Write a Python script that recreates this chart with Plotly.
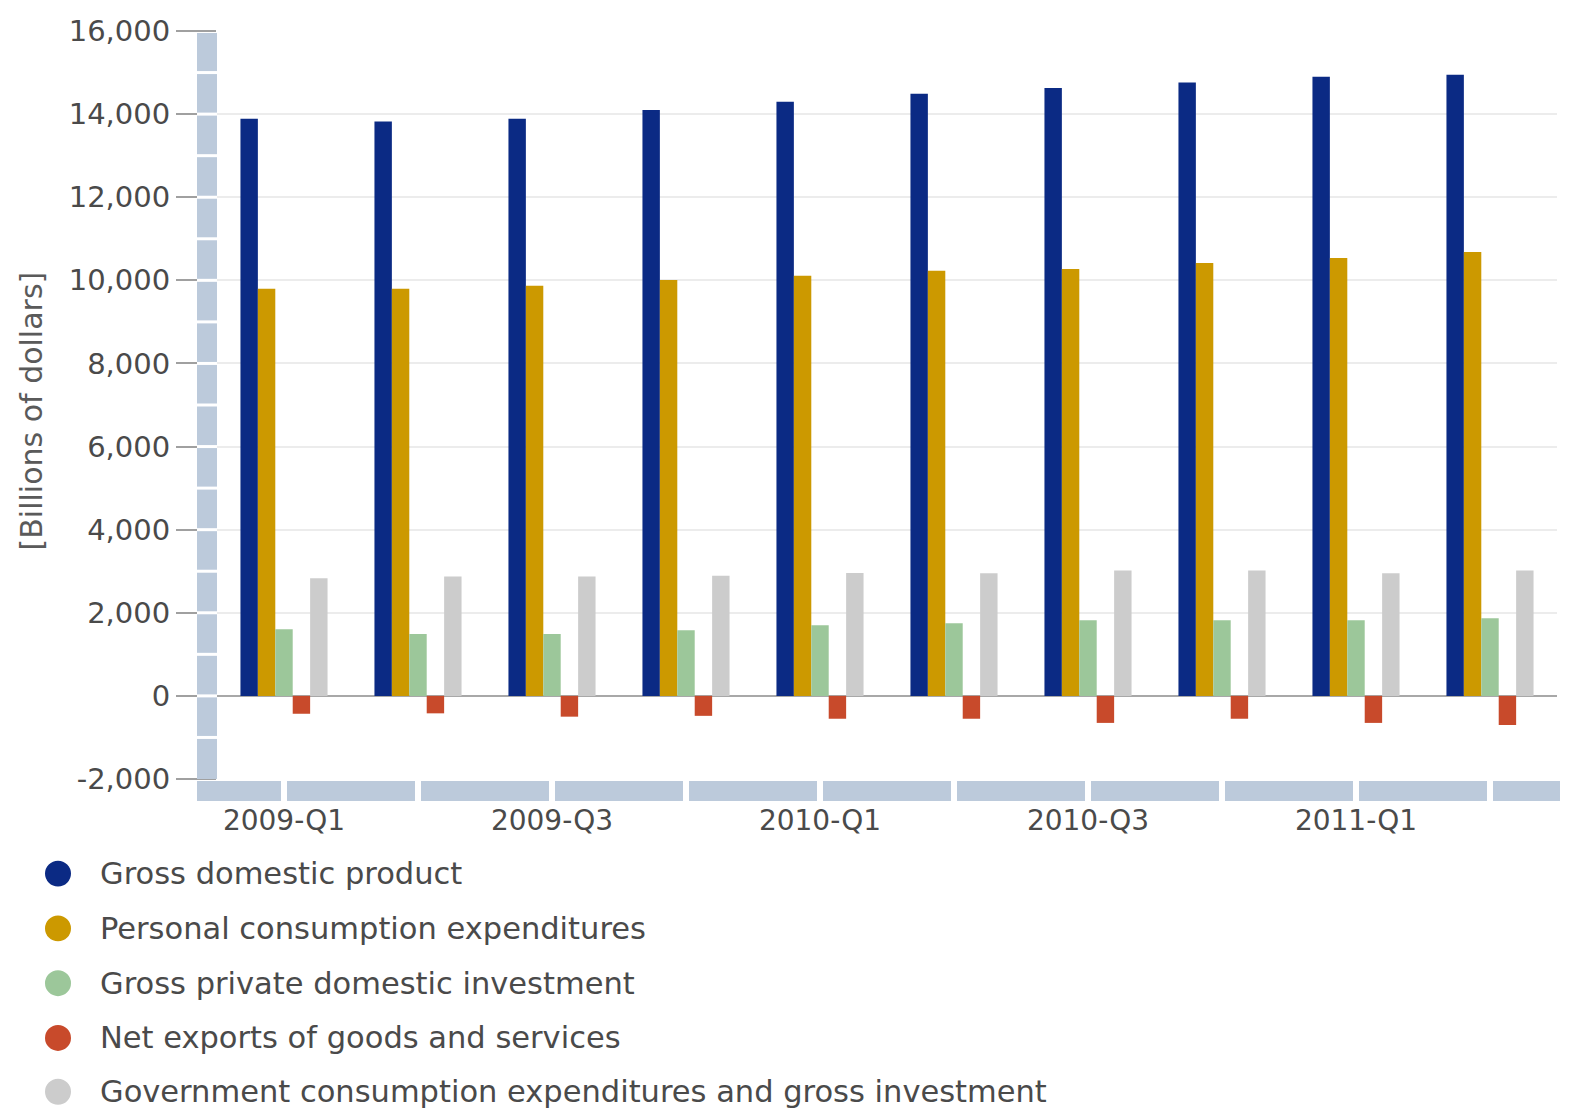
import plotly.graph_objects as go

quarters = ["2009-Q1", "2009-Q2", "2009-Q3", "2009-Q4", "2010-Q1",
            "2010-Q2", "2010-Q3", "2010-Q4", "2011-Q1", "2011-Q2"]
tick_labels = ["2009-Q1", "2009-Q3", "2010-Q1", "2010-Q3", "2011-Q1"]

series_names = ["Gross domestic product",
                "Personal consumption expenditures",
                "Gross private domestic investment",
                "Net exports of goods and services",
                "Government consumption expenditures and gross investment"]

gdp = [13890, 13820, 13890, 14100, 14300, 14490, 14630, 14760, 14900, 14950]
pce = [9800, 9800, 9870, 10010, 10110, 10230, 10270, 10420, 10540, 10680]
gpdi = [1605, 1490, 1490, 1580, 1700, 1750, 1820, 1820, 1820, 1870]
netx = [-430, -420, -500, -480, -550, -550, -650, -550, -650, -700]
gov = [2830, 2875, 2875, 2890, 2960, 2950, 3015, 3015, 2950, 3015]

series_values = [gdp, pce, gpdi, netx, gov]
colors = ["#0b2a84", "#cc9900", "#9cc79a", "#c84a2b", "#cccccc"]

y_ticks = [-2000, 0, 2000, 4000, 6000, 8000, 10000, 12000, 14000, 16000]

OFF = 8  # page body margin
W, H = 1555, 1103
# plot area in page pixels: x 217..1557, y 28..779
L = 217 - OFF
T = 28 - OFF
R = W - (1557 - OFF)
B = H - (779 - OFF)
PW, PH = W - L - R, H - T - B

FONT = "DejaVu Sans"
TXT = "#4a4a4a"
BAND = "#bccadb"

fig = go.Figure()
for name, vals, col in zip(series_names, series_values, colors):
    fig.add_trace(go.Bar(x=quarters, y=vals, name=name, marker_color=col,
                         marker_line_width=0, showlegend=False))


def px_x(p):
    return (p - OFF - L) / PW


def px_y(p):
    return (H - B - (p - OFF)) / PH


shapes = []
# left decorative band
shapes.append(dict(type="rect", xref="paper", yref="y", x0=px_x(197), x1=0,
                   y0=-2000, y1=15950, fillcolor=BAND, line_width=0, layer="above"))
for v in range(-1000, 16000, 1000):
    shapes.append(dict(type="line", xref="paper", yref="y", x0=px_x(197), x1=0,
                       y0=v, y1=v, line=dict(color="white", width=3), layer="above"))
# bottom decorative band
shapes.append(dict(type="rect", xref="paper", yref="paper", x0=px_x(197), x1=px_x(1560),
                   y0=px_y(801), y1=px_y(781), fillcolor=BAND, line_width=0, layer="above"))
for i in range(len(quarters)):
    shapes.append(dict(type="line", xref="x", yref="paper", x0=i, x1=i,
                       y0=px_y(802), y1=px_y(780), line=dict(color="white", width=6),
                       layer="above"))

# legend (manual, circular swatches)
annotations = []
leg_y = [874, 929, 984, 1039, 1093]
for name, col, yy in zip(series_names, colors, leg_y):
    r = 13
    shapes.append(dict(type="circle", xref="paper", yref="paper",
                       x0=px_x(58 - r), x1=px_x(58 + r), y0=px_y(yy + r), y1=px_y(yy - r),
                       fillcolor=col, line_width=0))
    annotations.append(dict(xref="paper", yref="paper", x=px_x(98), y=px_y(yy),
                            xanchor="left", yanchor="middle", text=name, showarrow=False,
                            font=dict(family=FONT, size=30.5, color=TXT)))

annotations.append(dict(xref="paper", yref="paper", x=px_x(31), y=px_y(410),
                        xanchor="center", yanchor="middle", text="[Billions of dollars]",
                        textangle=-90, showarrow=False,
                        font=dict(family=FONT, size=30, color="#5a5a5a")))

fig.update_layout(
    width=W, height=H,
    margin=dict(l=L, r=R, t=T, b=B),
    paper_bgcolor="white", plot_bgcolor="white",
    barmode="group", bargap=0.35, bargroupgap=0,
    shapes=shapes, annotations=annotations,
    showlegend=False,
    font=dict(family=FONT, color=TXT),
)
fig.update_xaxes(type="category", range=[-0.5, 9.5], tickmode="array",
                 tickvals=tick_labels, ticktext=tick_labels,
                 ticks="outside", ticklen=16, tickcolor="rgba(0,0,0,0)",
                 tickfont=dict(family=FONT, size=28, color=TXT),
                 showgrid=False, showline=False, zeroline=False)
fig.update_yaxes(range=[-2000, 16000], tickmode="array", tickvals=y_ticks,
                 ticktext=[f"{v:,}" for v in y_ticks],
                 ticks="outside", ticklen=40, tickcolor="#a0a0a0", tickwidth=2,
                 tickfont=dict(family=FONT, size=29, color=TXT),
                 showgrid=True, gridcolor="#ececec", gridwidth=2,
                 zeroline=True, zerolinecolor="#a8a8a8", zerolinewidth=2,
                 showline=False)

fig.write_html("out.html")
